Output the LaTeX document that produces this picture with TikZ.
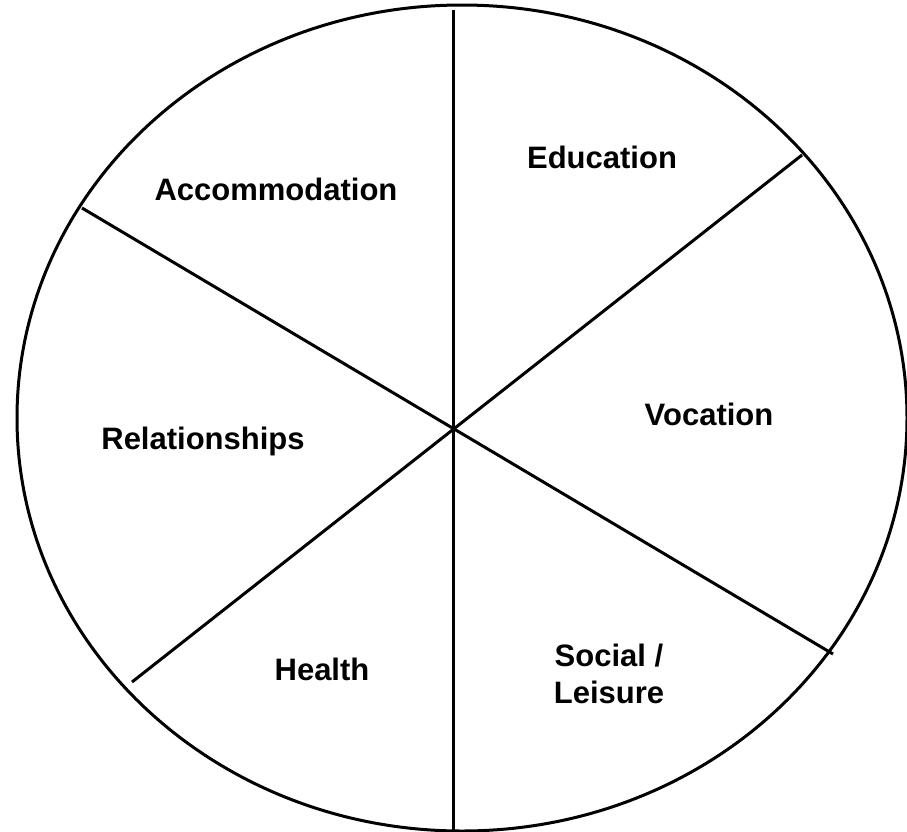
\documentclass[tikz,border=0pt]{standalone}
\usepackage{fontspec}
\setmainfont{Liberation Sans}
\begin{document}
\begin{tikzpicture}[x=1pt, y=-1pt, line width=3pt,
    lbl/.style={anchor=base, font=\fontsize{31}{37}\selectfont\bfseries, align=center}]
\useasboundingbox (0,0) rectangle (907,831);
\draw (462,418) ellipse [x radius=445, y radius=413];
\coordinate (top) at (453,10);
\coordinate (bot) at (453,830);
\coordinate (ne) at (802,155);
\coordinate (sw) at (132,682);
\coordinate (nw) at (82,208);
\coordinate (se) at (833,654);
\draw (top)--(bot);
\draw (ne)--(sw);
\draw (nw)--(se);
\node[lbl] (acc) at (276,200) {Accommodation};
\node[lbl] (edu) at (602,168) {Education};
\node[lbl] (voc) at (709,425) {Vocation};
\node[lbl] (rel) at (203,449) {Relationships};
\node[lbl] (hea) at (322,680) {Health};
\node[lbl] (soc) at (609,703) {Social /\\Leisure};
\end{tikzpicture}
\end{document}
